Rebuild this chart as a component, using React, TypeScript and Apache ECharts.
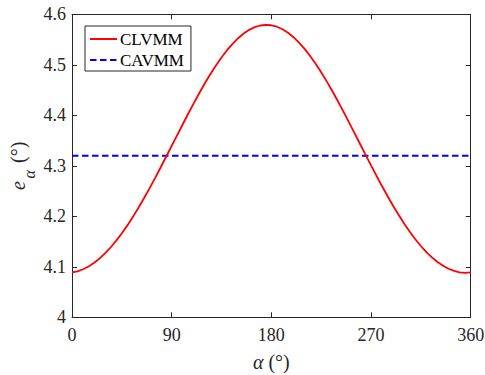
import React, { useEffect, useRef } from "react";
import * as echarts from "echarts";

const alphaDeg = [0, 5, 10, 15, 20, 25, 30, 35, 40, 45, 50, 55, 60, 65, 70, 75, 80, 85, 90, 95, 100,
  105, 110, 115, 120, 125, 130, 135, 140, 145, 150, 155, 160, 165, 170, 175, 180, 185, 190, 195, 200,
  205, 210, 215, 220, 225, 230, 235, 240, 245, 250, 255, 260, 265, 270, 275, 280, 285, 290, 295, 300,
  305, 310, 315, 320, 325, 330, 335, 340, 345, 350, 355, 360];
const clvmm = [4.0888, 4.0911, 4.0951, 4.1007, 4.1079, 4.1166, 4.1269, 4.1387, 4.1518, 4.1663, 4.182,
  4.1989, 4.2168, 4.2357, 4.2554, 4.2757, 4.2966, 4.3179, 4.3393, 4.3609, 4.3823, 4.4035, 4.4242,
  4.4442, 4.4634, 4.4817, 4.4988, 4.5145, 4.5289, 4.5416, 4.5527, 4.5619, 4.5692, 4.5745, 4.5778,
  4.5791, 4.5783, 4.5754, 4.5704, 4.5635, 4.5547, 4.544, 4.5316, 4.5175, 4.502, 4.4852, 4.4672,
  4.4481, 4.4282, 4.4077, 4.3866, 4.3652, 4.3437, 4.3221, 4.3008, 4.2799, 4.2594, 4.2396, 4.2205,
  4.2024, 4.1853, 4.1693, 4.1546, 4.1412, 4.1291, 4.1186, 4.1095, 4.102, 4.0961, 4.0918, 4.0891,
  4.0881, 4.0888];
const cavmmAlpha = [0, 360];
const cavmm = [4.32, 4.32];
const seriesNames = ["CLVMM", "CAVMM"];
const xTicks = [0, 90, 180, 270, 360];
const yTicks = [4, 4.1, 4.2, 4.3, 4.4, 4.5, 4.6];

const FONT = "Liberation Serif";
const AXIS = "#262626";

export default function App() {
  const ref = useRef<HTMLDivElement>(null);
  useEffect(() => {
    if (!ref.current) return;
    const chart = echarts.init(ref.current, undefined, { renderer: "svg" });
    const xMin = xTicks[0], xMax = xTicks[xTicks.length - 1], xInt = xTicks[1] - xTicks[0];
    const yMin = yTicks[0], yMax = yTicks[yTicks.length - 1];
    const yInt = Math.round((yTicks[1] - yTicks[0]) * 10) / 10;
    const common = {
      axisLine: { show: true, onZero: false, lineStyle: { color: AXIS, width: 1 } },
      axisTick: { show: true, inside: true, length: 5, lineStyle: { color: AXIS, width: 1 } },
      splitLine: { show: false },
    };
    chart.setOption({
      animation: false,
      backgroundColor: "#ffffff",
      textStyle: { fontFamily: FONT },
      grid: { left: 72, right: 14.3, top: 14.3, bottom: 57.7, containLabel: false, outerBoundsMode: "none" },
      xAxis: [
        {
          type: "value", min: xMin, max: xMax, interval: xInt, position: "bottom", ...common,
          axisLabel: { color: AXIS, fontSize: 18, fontFamily: FONT, margin: 9 },
          name: "{i|α} (°)", nameLocation: "middle", nameGap: 33,
          nameTextStyle: {
            color: AXIS, fontSize: 20, fontFamily: FONT, lineHeight: 24,
            rich: { i: { fontStyle: "italic", fontSize: 20, fontFamily: FONT, color: AXIS, lineHeight: 24 } },
          },
        },
        {
          type: "value", min: xMin, max: xMax, interval: xInt, position: "top", ...common,
          axisLabel: { show: false },
        },
      ],
      yAxis: [
        {
          type: "value", min: yMin, max: yMax, interval: yInt, position: "left", ...common,
          axisLabel: {
            color: AXIS, fontSize: 18, fontFamily: FONT, margin: 6,
            formatter: (v: number) => String(Number(v.toFixed(1))),
          },
        },
        {
          type: "value", min: yMin, max: yMax, interval: yInt, position: "right", ...common,
          axisLabel: { show: false },
        },
      ],
      legend: {
        data: seriesNames,
        orient: "vertical",
        left: 85,
        top: 26,
        padding: [3, 7, 1, 4],
        itemGap: 1,
        itemWidth: 27,
        itemHeight: 14,
        itemStyle: { opacity: 0 },
        backgroundColor: "#ffffff",
        borderColor: AXIS,
        borderWidth: 1,
        borderRadius: 0,
        textStyle: { fontSize: 17, fontFamily: FONT, color: "#000000", lineHeight: 20, padding: [0, 0, 0, -2] },
      },
      graphic: [
        {
          type: "group",
          x: 18.4,
          y: 190,
          rotation: Math.PI / 2,
          children: [
            { type: "text", x: 0, y: 0, style: { text: "e", fontFamily: FONT, fontStyle: "italic", fontSize: 20, fill: AXIS, align: "left", verticalAlign: "middle" } },
            { type: "text", x: 11.5, y: 11, style: { text: "α", fontFamily: FONT, fontStyle: "italic", fontSize: 16, fill: AXIS, align: "left", verticalAlign: "middle" } },
            { type: "text", x: 27, y: 0, style: { text: "(°)", fontFamily: FONT, fontSize: 20, fill: AXIS, align: "left", verticalAlign: "middle" } },
          ],
        },
      ],
      series: [
        {
          name: seriesNames[0],
          type: "line",
          data: alphaDeg.map((a, i) => [a, clvmm[i]]),
          showSymbol: false,
          symbol: "none",
          lineStyle: { color: "#ff0000", width: 1.8 },
          itemStyle: { color: "#ff0000" },
          z: 3,
        },
        {
          name: seriesNames[1],
          type: "line",
          data: cavmmAlpha.map((a, i) => [a, cavmm[i]]),
          showSymbol: false,
          symbol: "none",
          lineStyle: { color: "#0000ff", width: 2, type: [6.5, 3.5] },
          itemStyle: { color: "#0000ff" },
          z: 2,
        },
      ],
    });
    return () => chart.dispose();
  }, []);
  return (
    <div
      ref={ref}
      style={{ position: "fixed", left: 0, top: 0, width: 485, height: 375, background: "#fff" }}
    />
  );
}
